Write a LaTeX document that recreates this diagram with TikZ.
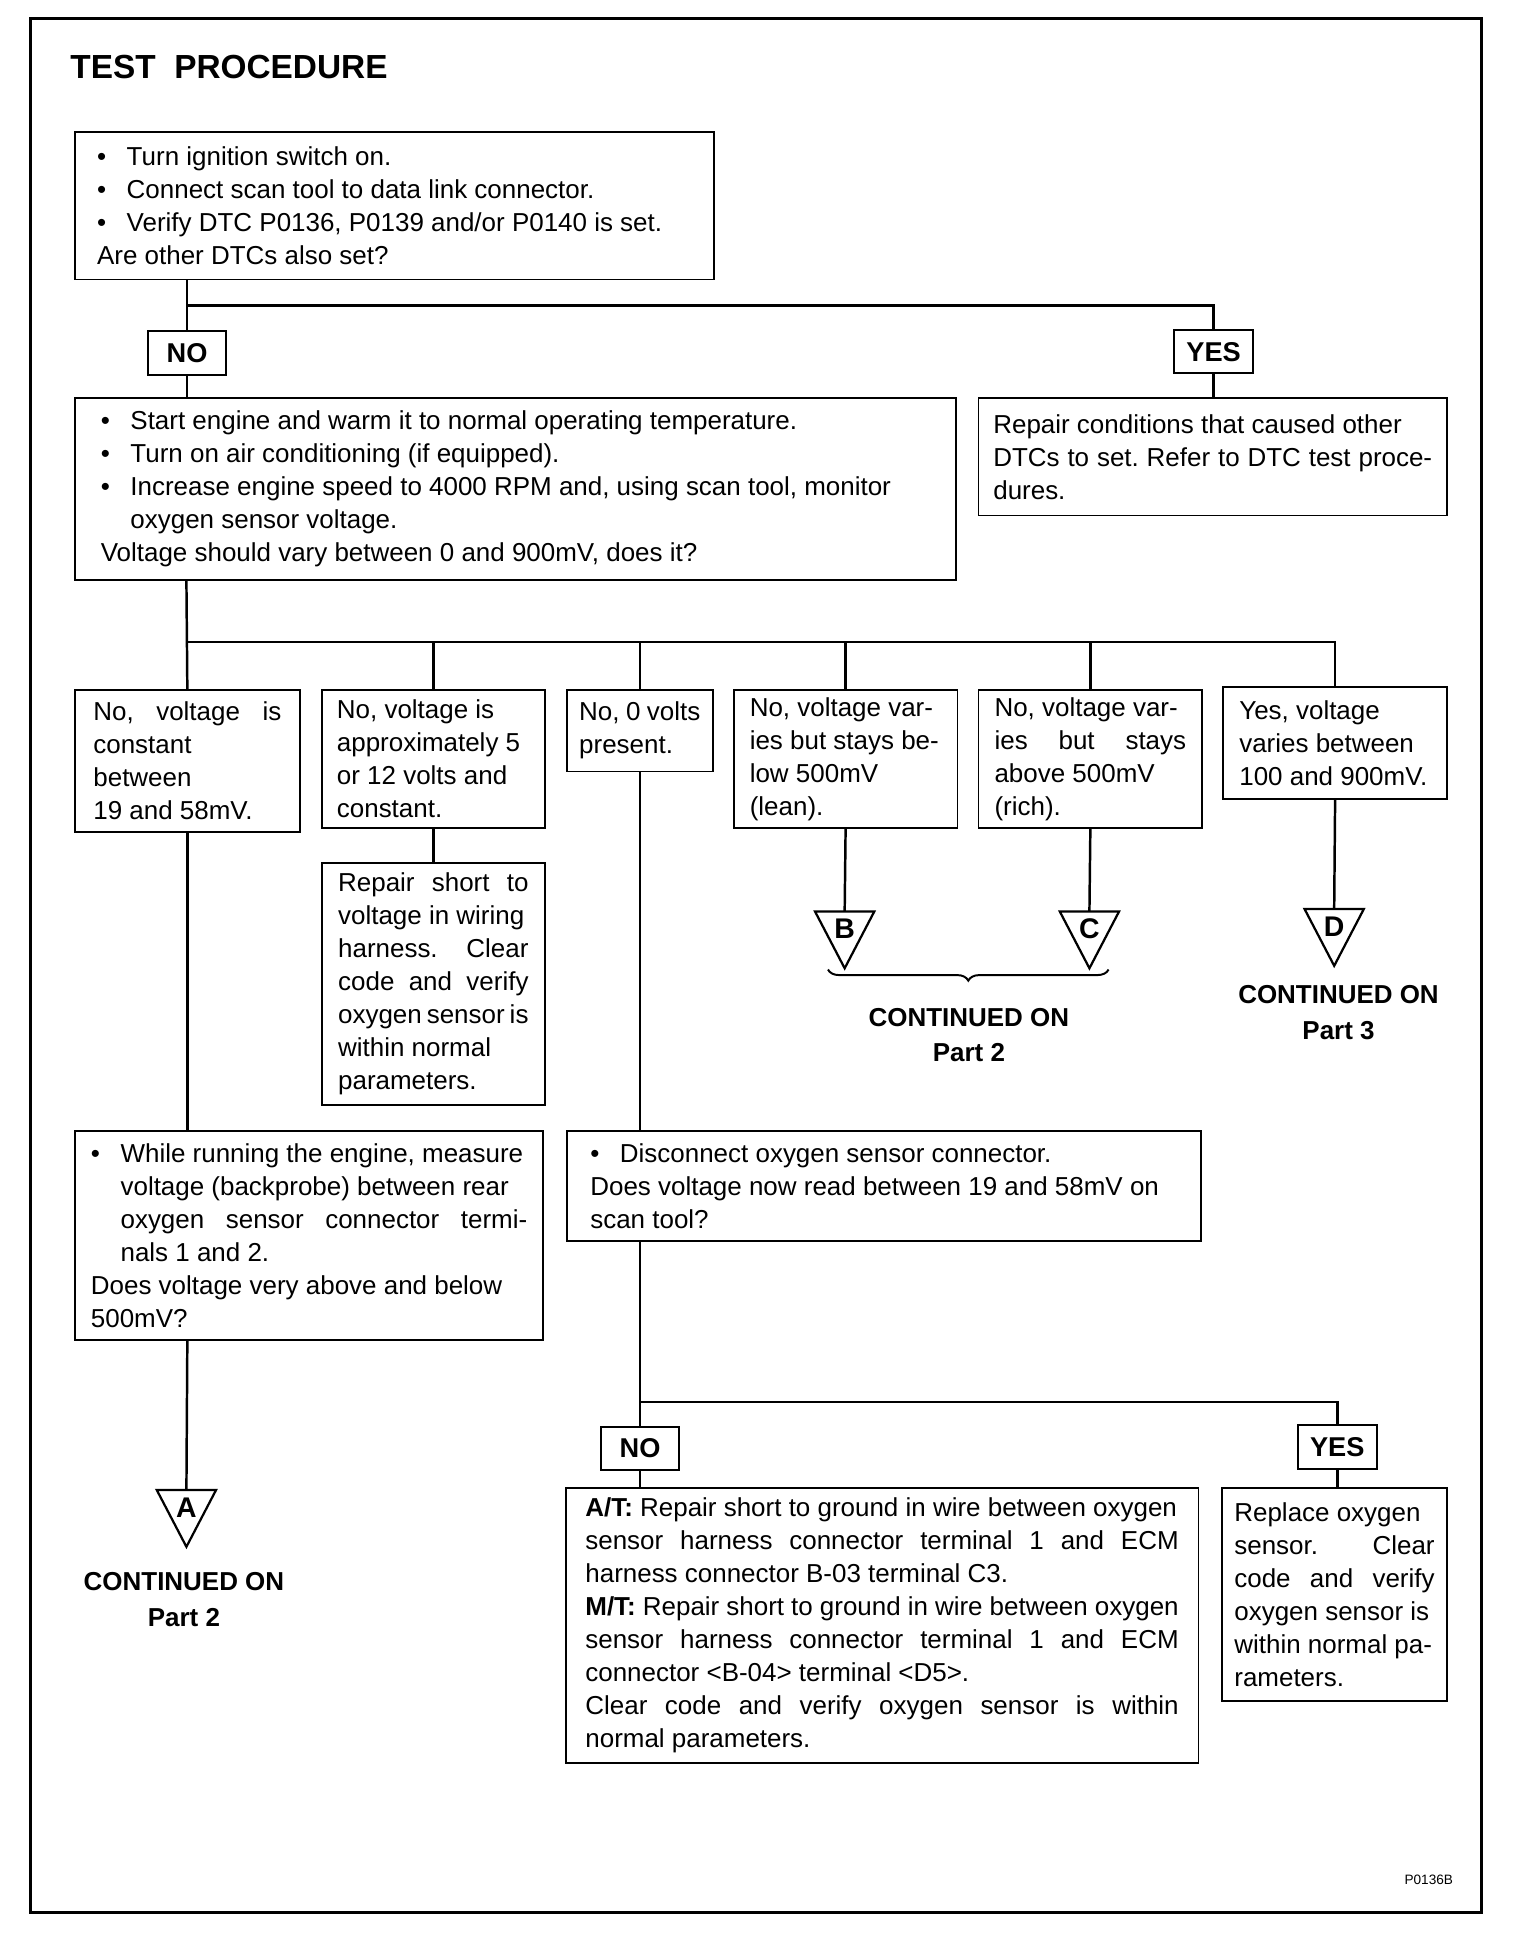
\documentclass[tikz,border=0pt]{standalone}
\usepackage{fontspec}
\setmainfont{Liberation Sans}
\usetikzlibrary{decorations.pathreplacing}
\newcommand{\bodyfont}{\fontsize{21}{26.7}\selectfont\frenchspacing
  \spaceskip=.278em plus .2em minus .15em\hyphenpenalty=10000\exhyphenpenalty=10000}
\newcommand{\bul}{\makebox[24pt][l]{\textbullet}}
\newcommand{\ind}{\hspace*{24pt}}
\newcommand{\jl}[2][0pt]{\hspace*{#1}\makebox[\dimexpr\hsize-#1\relax][s]{#2}}

\begin{document}
\begin{tikzpicture}[x=1pt, y=-1pt,
    box/.style={draw, line width=1.5pt, anchor=north west, inner ysep=0pt, align=justify, font=\bodyfont},
    tag/.style={draw, line width=1.5pt, anchor=north, inner sep=0pt, minimum width=63pt, minimum height=35pt,
      font=\fontsize{22}{26}\selectfont\bfseries},
    link/.style={line width=2pt},
    tri/.style={line width=1.8pt, line join=miter},
    letter/.style={font=\fontsize{23}{26}\selectfont\bfseries, inner sep=0pt},
    cont/.style={font=\fontsize{21}{29}\selectfont\bfseries, align=center, inner sep=0pt}]
  \useasboundingbox (-1.8,-2.3) rectangle (1228.3,1568.7);
  \draw[line width=2.5pt] (23,13) rectangle (1197,1545);
  \node[anchor=base west, font=\fontsize{27}{30}\selectfont\bfseries, inner sep=0pt] (title) at (55,61) {TEST\ \ PROCEDURE};

  \node[box, inner xsep=18pt, text width=481pt, minimum height=119pt] (first) at (58,104)
    {\bul Turn ignition switch on.\\ \bul Connect scan tool to data link connector.\\
     \bul Verify DTC P0136, P0139 and/or P0140 is set.\\ Are other DTCs also set?};
  \node[tag] (no1) at (149.5,265) {NO};
  \node[tag, minimum width=64pt] (yes1) at (980,264) {YES};
  \node[box, inner xsep=21pt, text width=671pt, minimum height=147pt] (warm) at (58,319)
    {\bul Start engine and warm it to normal operating temperature.\\ \bul Turn on air conditioning (if equipped).\\
     \bul Increase engine speed to 4000 RPM and, using scan tool, monitor\\ \ind oxygen sensor voltage.\\
     Voltage should vary between 0 and 900mV, does it?};
  \node[box, inner xsep=12pt, text width=355pt, minimum height=95pt] (other) at (789,319)
    {Repair conditions that caused other\\ \jl{DTCs to set. Refer to DTC test proce-}\\ dures.};

  \node[box, inner xsep=15pt, text width=152pt, minimum height=115pt] (vconst) at (58,555)
    {\jl{No, voltage is}\\ constant\\ between\\ 19 and 58mV.};
  \node[box, inner xsep=12pt, text width=156pt, minimum height=112pt] (vhigh) at (258,555)
    {No, voltage is\\ approximately 5\\ or 12 volts and\\ constant.};
  \node[box, inner xsep=10pt, text width=98pt, minimum height=66pt] (vzero) at (456,555)
    {No, 0 volts\\ present.};
  \node[box, inner xsep=13pt, text width=155pt, minimum height=112pt] (vlean) at (591,555)
    {No, voltage var-\\ ies but stays be-\\ low 500mV\\ (lean).};
  \node[box, inner xsep=13pt, text width=155pt, minimum height=112pt] (vrich) at (789,555)
    {No, voltage var-\\ \jl{ies but stays}\\ above 500mV\\ (rich).};
  \node[box, inner xsep=13pt, text width=155pt, minimum height=90pt] (vok) at (987,553)
    {Yes, voltage\\ varies between\\ 100 and 900mV.};
  \node[box, inner xsep=13pt, text width=154pt, minimum height=196pt] (fix5v) at (258,695)
    {\jl{Repair short to}\\ voltage in wiring\\ \jl{harness. Clear}\\ \jl{code and verify}\\ oxygen sensor is\\
     within normal\\ parameters.};

  \node[box, inner xsep=13pt, text width=353pt, minimum height=169pt] (probe) at (58,912)
    {\bul While running the engine, measure\\ \ind voltage (backprobe) between rear\\
     \jl[24pt]{oxygen sensor connector termi-}\\ \ind nals 1 and 2.\\ Does voltage very above and below\\ 500mV?};
  \node[box, inner xsep=19pt, text width=475pt, minimum height=89pt] (unplug) at (456,912)
    {\bul Disconnect oxygen sensor connector.\\ Does voltage now read between 19 and 58mV on\\ scan tool?};

  \node[tag] (no2) at (516,1151) {NO};
  \node[tag, minimum width=64pt] (yes2) at (1080,1150) {YES};
  \node[box, inner xsep=16pt, text width=480pt, minimum height=222pt] (gndfix) at (455,1201)
    {\textbf{A/T:} Repair short to ground in wire between oxygen\\ \jl{sensor harness connector terminal 1 and ECM}\\
     harness connector B-03 terminal C3.\\ \textbf{M/T:} Repair short to ground in wire between oxygen\\
     \jl{sensor harness connector terminal 1 and ECM}\\ connector <B-04> terminal <D5>.\\
     \jl{Clear code and verify oxygen sensor is within}\\ normal parameters.};
  \node[box, inner xsep=10pt, text width=162pt, minimum height=172pt] (newsensor) at (986,1201)
    {Replace oxygen\\ \jl{sensor. Clear}\\ \jl{code and verify}\\ oxygen sensor is\\ within normal pa-\\ rameters.};

  \coordinate (j1) at (149.5,245);
  \coordinate (j2) at (149,517);
  \coordinate (j3) at (516,1132);
  \coordinate (tA) at (149,1203);
  \coordinate (tB) at (681.5,735);
  \coordinate (tC) at (879.5,735);
  \coordinate (tD) at (1077.5,733);

  \draw[link] (first.south -| j1) -- (no1.north);
  \draw[link] (j1) -| (yes1.north);
  \draw[link] (no1.south) -- (warm.north -| no1);
  \draw[link] (yes1.south) -- (other.north -| yes1);
  \draw[link] (warm.south -| j2) -- (vconst.north);
  \draw[link] (j2) -| (vok.north);
  \foreach \b in {vhigh,vzero,vlean,vrich}
    \draw[link] (j2 -| \b.north) -- (\b.north);
  \draw[link] (vhigh.south) -- (fix5v.north);
  \draw[link] (vconst.south) -- (probe.north -| vconst);
  \draw[link] (probe.south -| vconst) -- (tA);
  \draw[link] (vzero.south) -- (unplug.north -| vzero);
  \draw[link] (vlean.south) -- (tB);
  \draw[link] (vrich.south) -- (tC);
  \draw[link] (vok.south) -- (tD);
  \draw[link] (unplug.south -| j3) -- (no2.north);
  \draw[link] (j3) -| (yes2.north);
  \draw[link] (no2.south) -- (gndfix.north -| no2);
  \draw[link] (yes2.south) -- (newsensor.north -| yes2);

  \foreach \t/\l in {tA/A,tB/B,tC/C,tD/D}{
    \draw[tri] (\t) ++(-24,0) -- ++(48,0) -- ++(-24,46) -- cycle;
    \node[letter] (l\l) at ([yshift=-14pt]\t) {\l};
  }
  \draw[line width=1.6pt, decorate, decoration={brace, mirror, amplitude=9pt}] (668,782) -- (895,782);

  \node[cont] (partA) at (147,1292) {CONTINUED ON\\ Part 2};
  \node[cont] (partBC) at (782,835) {CONTINUED ON\\ Part 2};
  \node[cont] (partD) at (1081,817) {CONTINUED ON\\ Part 3};
  \node[font=\fontsize{11}{13}\selectfont, inner sep=0pt] (code) at (1154,1518) {P0136B};
\end{tikzpicture}
\end{document}
